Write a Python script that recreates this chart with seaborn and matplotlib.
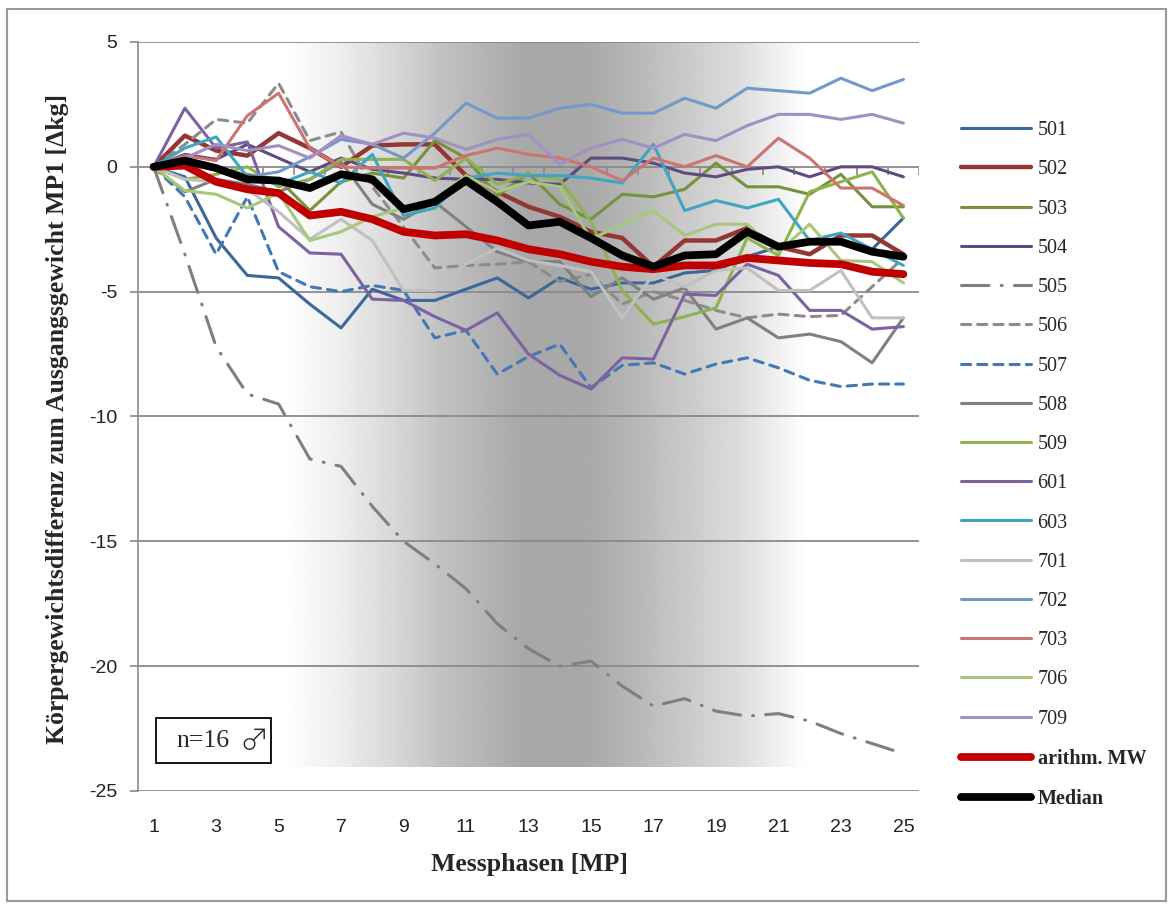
import numpy as np
import matplotlib
matplotlib.use("Agg")
import matplotlib.pyplot as plt
import seaborn as sns
from matplotlib.patches import Rectangle
from matplotlib.lines import Line2D

# ---------------- data ----------------
mp = list(range(1, 26))
s501 = [0, -0.4, -2.85, -4.35, -4.45, -5.5, -6.45, -4.9, -5.35, -5.35, -4.9, -4.45, -5.25, -4.45, -4.9, -4.65, -4.65, -4.25, -4.15, -3.6, -3.2, -3.0, -3.0, -3.3, -2.05]
s502 = [0, 1.25, 0.65, 0.45, 1.35, 0.75, 0.0, 0.85, 0.9, 0.9, -0.35, -1.0, -1.6, -2.0, -2.6, -2.85, -4.0, -2.95, -2.95, -2.45, -3.2, -3.5, -2.75, -2.75, -3.5]
s503 = [0, 0.3, -0.1, -0.3, -0.5, -1.75, -0.6, -0.25, -0.45, 1.05, 0.35, -1.15, -0.25, -1.5, -2.1, -1.1, -1.2, -0.9, 0.15, -0.8, -0.8, -1.1, -0.3, -1.6, -1.6]
s504 = [0, 0.5, 0.3, 0.9, 0.35, -0.2, 0.35, -0.1, -0.25, -0.45, -0.5, -0.5, -0.65, -0.7, 0.35, 0.35, 0.15, -0.25, -0.4, -0.1, 0.0, -0.4, 0.0, 0.0, -0.4]
s505 = [0, -3.5, -7.2, -9.1, -9.5, -11.7, -12.0, -13.6, -15.0, -15.9, -16.9, -18.3, -19.3, -20.0, -19.8, -20.8, -21.6, -21.3, -21.8, -22.0, -21.9, -22.2, -22.7, -23.1, -23.5]
s506 = [0, 0.9, 1.9, 1.75, 3.35, 1.05, 1.4, -0.8, -2.4, -4.05, -3.95, -3.9, -3.8, -4.6, -4.3, -5.5, -5.0, -5.35, -5.75, -6.05, -5.9, -6.0, -5.95, -4.8, -3.65]
s507 = [0, -1.2, -3.5, -1.2, -4.2, -4.8, -5.0, -4.75, -4.95, -6.85, -6.55, -8.3, -7.6, -7.1, -8.85, -7.95, -7.85, -8.3, -7.9, -7.65, -8.05, -8.55, -8.8, -8.7, -8.7]
s508 = [0, -1.0, -0.5, -0.7, -1.0, -0.5, 0.2, -1.5, -2.1, -1.4, -2.4, -3.4, -3.8, -3.8, -5.2, -4.45, -5.3, -4.85, -6.5, -6.05, -6.85, -6.7, -7.0, -7.85, -6.05]
s509 = [0, -0.5, -0.3, 0.0, -0.8, -0.5, 0.3, 0.3, 0.3, -0.55, 0.35, -0.7, -0.3, -0.5, -2.2, -4.95, -6.3, -6.0, -5.65, -2.85, -3.55, -1.0, -0.6, -0.2, -2.05]
s601 = [0, 2.35, 0.75, 1.0, -2.4, -3.45, -3.5, -5.3, -5.35, -6.0, -6.55, -5.85, -7.5, -8.35, -8.9, -7.65, -7.7, -5.1, -5.15, -3.9, -4.35, -5.75, -5.75, -6.5, -6.4]
s603 = [0, 0.75, 1.2, -0.4, -0.7, -0.2, -0.65, 0.5, -1.95, -1.65, -0.45, -0.25, -0.35, -0.35, -0.45, -0.65, 0.9, -1.75, -1.35, -1.65, -1.3, -2.95, -2.65, -3.3, -3.95]
s701 = [0, -0.5, -0.6, -0.9, -1.8, -2.9, -2.1, -2.95, -4.95, -4.95, -3.9, -3.25, -3.75, -3.95, -4.2, -6.05, -4.3, -4.8, -4.15, -4.05, -4.95, -4.95, -4.15, -6.05, -6.05]
s702 = [0, 0.3, 0.0, -0.4, -0.2, 0.4, 1.1, 0.9, 0.35, 1.35, 2.55, 1.95, 1.95, 2.35, 2.5, 2.15, 2.15, 2.75, 2.35, 3.15, 3.05, 2.95, 3.55, 3.05, 3.5]
s703 = [0, 0.45, 0.25, 2.05, 2.95, 0.75, 0.0, -0.05, -0.05, -0.05, 0.45, 0.75, 0.5, 0.35, 0.0, -0.55, 0.35, 0.0, 0.45, 0.0, 1.15, 0.35, -0.85, -0.85, -1.55]
s706 = [0, -0.95, -1.1, -1.65, -1.05, -2.95, -2.6, -2.0, -1.65, -1.3, -0.35, -1.0, -0.6, -0.8, -2.9, -2.3, -1.75, -2.75, -2.3, -2.3, -3.4, -2.3, -3.75, -3.8, -4.65]
s709 = [0, 0.35, 0.9, 0.65, 0.85, 0.35, 1.25, 0.9, 1.35, 1.15, 0.7, 1.1, 1.3, 0.1, 0.75, 1.1, 0.75, 1.3, 1.05, 1.65, 2.1, 2.1, 1.9, 2.1, 1.75]
mean_mw = [0, 0.05, -0.6, -0.9, -1.05, -1.95, -1.8, -2.1, -2.6, -2.75, -2.7, -2.95, -3.3, -3.5, -3.8, -4.0, -4.1, -3.95, -3.95, -3.65, -3.75, -3.85, -3.9, -4.2, -4.3]
median = [0, 0.25, -0.05, -0.5, -0.55, -0.85, -0.3, -0.5, -1.7, -1.4, -0.55, -1.4, -2.35, -2.2, -2.85, -3.55, -4.0, -3.55, -3.5, -2.6, -3.2, -3.0, -3.0, -3.4, -3.6]

labels = ['501', '502', '503', '504', '505', '506', '507', '508', '509',
          '601', '603', '701', '702', '703', '706', '709', 'arithm. MW', 'Median']
values = [s501, s502, s503, s504, s505, s506, s507, s508, s509,
          s601, s603, s701, s702, s703, s706, s709, mean_mw, median]
y_ticks = [5, 0, -5, -10, -15, -20, -25]
x_tick_labels = [str(v) for v in range(1, 26, 2)]

# ---------------- styles ----------------
colors = ['#3C679A', '#943634', '#76923C', '#5F4B7F', '#7F7F7F', '#8C8C8C',
          '#4677B5', '#808080', '#8DB34F', '#7C62A0', '#3FA5C0', '#C0C0C0',
          '#7598CB', '#CC7470', '#A7C77A', '#A190C0', '#C00000', '#000000']
widths = [2.2, 3.2, 2.2, 2.2, 2.2, 2.2, 2.2, 2.2, 2.2,
          2.2, 2.2, 2.2, 2.2, 2.2, 2.2, 2.2, 5.6, 5.6]
styles = ['-', '-', '-', '-', (0, (9, 4, 0.3, 4)), (0, (3.0, 2.3)), (0, (3.0, 2.3)), '-', '-',
          '-', '-', '-', '-', '-', '-', '-', '-', '-']

sns.set_theme(style='white')
plt.rcParams['font.family'] = ['Liberation Serif', 'DejaVu Serif']

W, H = 1172, 907
fig = plt.figure(figsize=(W / 100, H / 100), dpi=100)
fig.patch.set_facecolor('white')

def fx(px):
    return px / W

def fy(py):
    return 1 - py / H

ax = fig.add_axes([fx(138), fy(791), fx(919) - fx(138), fy(42) - fy(791)])
ax.set_facecolor('white')

# background gradient (decoration)
gx = np.linspace(0.5, 25.5, 600)
stop_x = [0.5, 5.2, 7.0, 9.0, 10.2, 12.8, 14.8, 16.5, 18.0, 19.7, 21.9, 25.5]
stop_v = [1.0, 1.0, 0.93, 0.83, 0.76, 0.66, 0.66, 0.72, 0.79, 0.86, 1.0, 1.0]
gv = np.interp(gx, stop_x, stop_v)
ax.imshow(gv[np.newaxis, :], extent=[0.5, 25.5, -24.05, 5], aspect='auto',
          cmap='gray', vmin=0, vmax=1, zorder=0, interpolation='bilinear')

grid_c = '#8A8A8A'
for yv in y_ticks:
    ax.axhline(yv, color=grid_c, lw=1.3, zorder=0.8)
ax.vlines(np.arange(0.5, 26, 1), -0.32, 0, color=grid_c, lw=1.2, zorder=0.9)

handles = []
for lab, vals, c, lw, ls in zip(labels, values, colors, widths, styles):
    sns.lineplot(x=mp, y=vals, ax=ax, color=c, linewidth=lw, linestyle=ls,
                 estimator=None, sort=False, legend=False, zorder=3)
    line = ax.get_lines()[-1]
    line.set_solid_joinstyle('round')
    line.set_solid_capstyle('round')
    line.set_dash_capstyle('round')
    handles.append(Line2D([0], [0], color=c, lw=lw, linestyle=ls,
                          solid_capstyle='round', dash_capstyle='round'))

ax.set_xlim(0.5, 25.5)
ax.set_ylim(-25, 5)
ax.set_xticks(range(1, 26, 2))
ax.set_xticklabels(x_tick_labels)
ax.set_yticks(y_ticks)
ax.set_yticklabels([str(v) for v in y_ticks])
ax.set_xlabel('')
ax.set_ylabel('')
for t in ax.get_xticklabels() + ax.get_yticklabels():
    t.set_fontfamily('Liberation Sans')
    t.set_fontsize(14)
    t.set_color('#222222')
ax.tick_params(axis='x', length=0, pad=20)
ax.tick_params(axis='y', length=6, width=1.2, color=grid_c, pad=9, left=True)
for side in ['top', 'right', 'bottom']:
    ax.spines[side].set_visible(False)
ax.spines['left'].set_color(grid_c)
ax.spines['left'].set_linewidth(1.2)
ax.grid(False)

fig.text(fx(58), fy(419), 'Körpergewichtsdifferenz zum Ausgangsgewicht MP1 [Δkg]',
         rotation=90, ha='center', va='center', fontsize=18.5, fontweight='bold')
fig.text(fx(529), fy(865), 'Messphasen [MP]', ha='center', va='center',
         fontsize=18.5, fontweight='bold')

leg = fig.legend(handles, labels, loc='center left', bbox_to_anchor=(fx(961), fy(465)),
                 frameon=False, fontsize=14.5, handlelength=3.5, handletextpad=0.3,
                 labelspacing=1.0, borderpad=0, borderaxespad=0)
for t in leg.get_texts():
    if t.get_text() in ('arithm. MW', 'Median'):
        t.set_fontweight('bold')

# n=16 box
fig.patches.append(Rectangle((fx(156), fy(763)), fx(271) - fx(156), fy(718) - fy(763),
                             transform=fig.transFigure, facecolor='white',
                             edgecolor='black', lw=1.3, zorder=5))
fig.text(fx(176), fy(741), 'n=16', ha='left', va='center', fontsize=18.5, zorder=6)
fig.text(fx(254), fy(742), '♂', ha='center', va='center', fontsize=21,
         family=['Noto Sans CJK JP', 'DejaVu Sans'], fontweight='light', zorder=6)

# chart border
fig.patches.append(Rectangle((fx(7), fy(901)), fx(1166) - fx(7), fy(9) - fy(901),
                             transform=fig.transFigure, facecolor='none',
                             edgecolor='#9A9A9A', lw=1.5))

fig.savefig('out.png', dpi=100)
